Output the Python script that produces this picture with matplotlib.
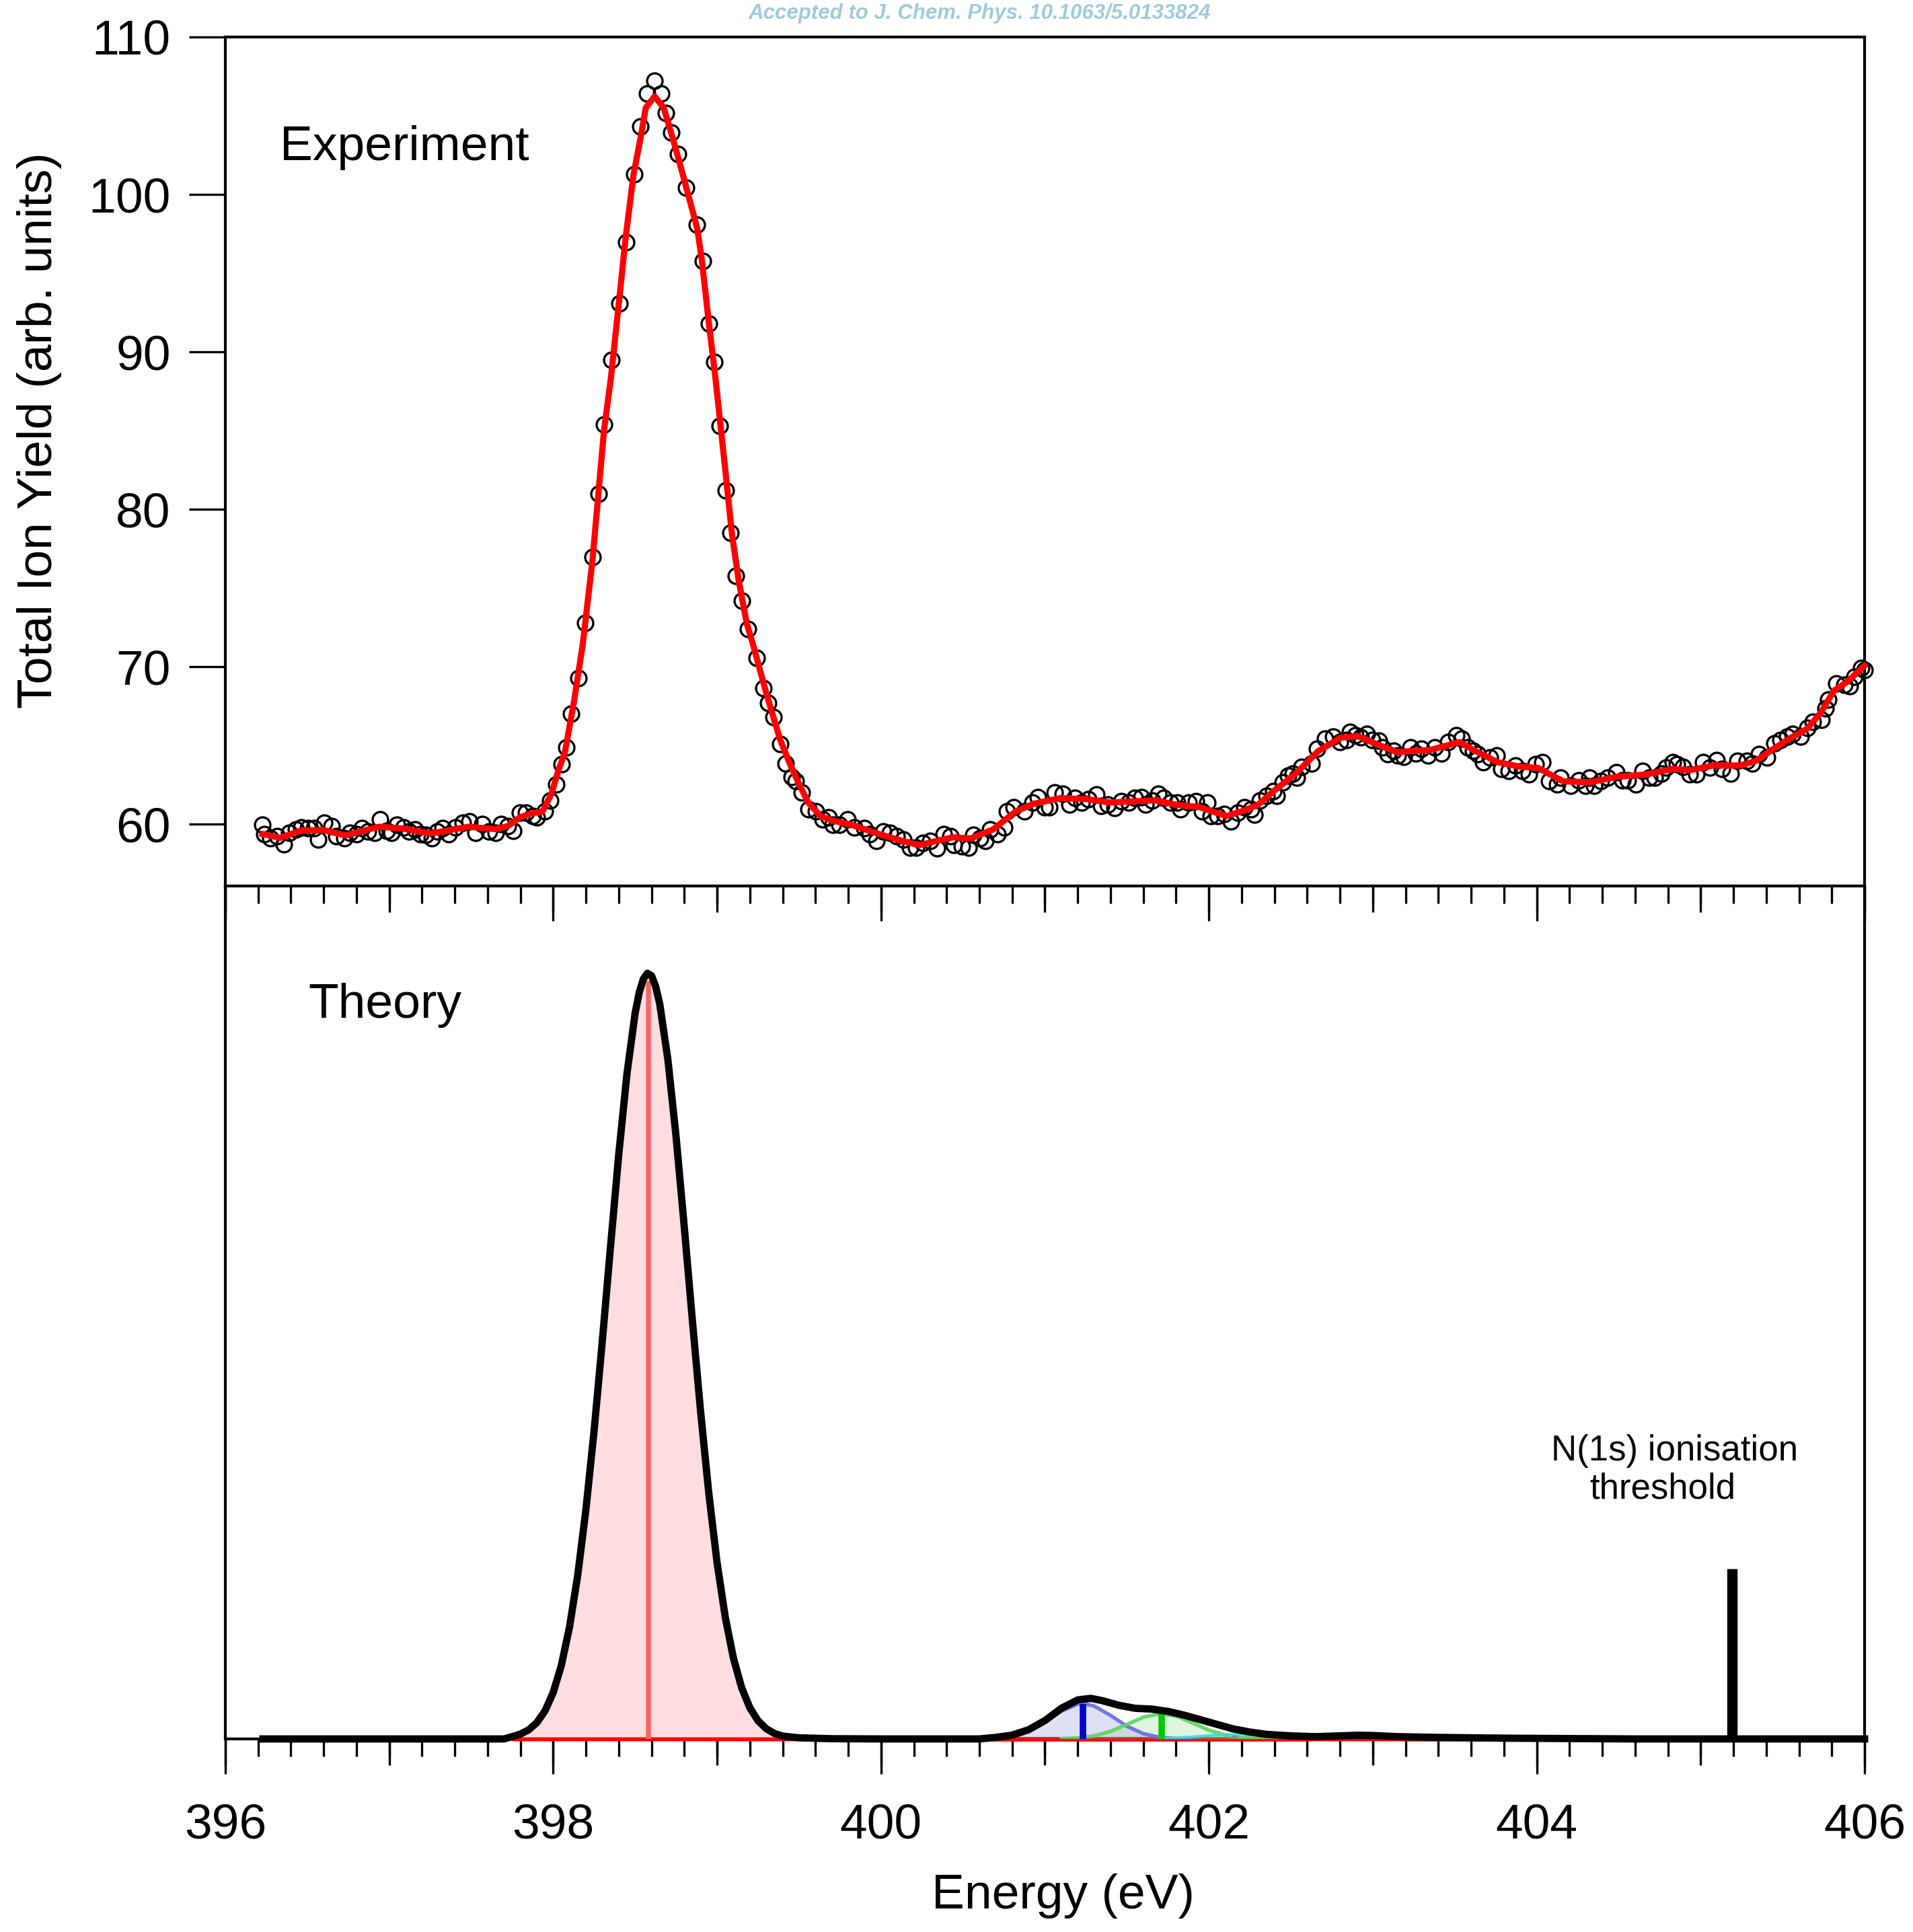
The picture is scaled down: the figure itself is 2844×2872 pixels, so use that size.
import matplotlib
matplotlib.use("Agg")
import matplotlib.pyplot as plt
from matplotlib.ticker import MultipleLocator, NullFormatter

plt.rcParams["font.family"] = ["Liberation Sans", "DejaVu Sans"]

# ---- measured total ion yield (open circles) ----
exp_energy = [
    396.226, 396.239, 396.274, 396.315, 396.356, 396.390, 396.431, 396.465, 396.506, 396.540,
    396.568, 396.602, 396.650, 396.677, 396.725, 396.759, 396.800, 396.834, 396.869, 396.910,
    396.944, 396.985, 397.012, 397.046, 397.087, 397.122, 397.156, 397.190, 397.224, 397.258,
    397.293, 397.327, 397.361, 397.402, 397.450, 397.491, 397.525, 397.566, 397.607, 397.648,
    397.682, 397.723, 397.758, 397.799, 397.833, 397.874, 397.901, 397.949, 397.983, 398.020,
    398.050, 398.080, 398.110, 398.155, 398.196, 398.241, 398.278, 398.310, 398.357, 398.405,
    398.446, 398.495, 398.532, 398.572, 398.618, 398.658, 398.688, 398.721, 398.763, 398.811,
    398.878, 398.912, 398.949, 398.983, 399.015, 399.053, 399.083, 399.113, 399.150, 399.188,
    399.242, 399.283, 399.310, 399.344, 399.385, 399.419, 399.454, 399.481, 399.515, 399.556,
    399.604, 399.645, 399.679, 399.706, 399.747, 399.795, 399.836, 399.898, 399.932, 399.973,
    400.014, 400.055, 400.096, 400.137, 400.178, 400.213, 400.254, 400.302, 400.343, 400.384,
    400.425, 400.445, 400.493, 400.534, 400.562, 400.603, 400.637, 400.664, 400.712, 400.753,
    400.767, 400.808, 400.876, 400.924, 400.958, 401.000, 401.027, 401.061, 401.109, 401.150,
    401.184, 401.225, 401.266, 401.314, 401.341, 401.382, 401.423, 401.464, 401.512, 401.546,
    401.587, 401.615, 401.656, 401.690, 401.724, 401.765, 401.806, 401.827, 401.875, 401.923,
    401.957, 401.991, 402.011, 402.052, 402.093, 402.135, 402.176, 402.217, 402.258, 402.278,
    402.312, 402.353, 402.394, 402.415, 402.449, 402.483, 402.511, 402.538, 402.565, 402.627,
    402.661, 402.709, 402.757, 402.798, 402.839, 402.860, 402.894, 402.928, 402.962, 402.996,
    403.037, 403.058, 403.092, 403.126, 403.154, 403.188, 403.229, 403.263, 403.297, 403.338,
    403.379, 403.420, 403.461, 403.509, 403.543, 403.578, 403.612, 403.639, 403.673, 403.714,
    403.755, 403.783, 403.831, 403.872, 403.913, 403.954, 403.995, 404.036, 404.077, 404.125,
    404.145, 404.207, 404.255, 404.296, 404.323, 404.350, 404.392, 404.433, 404.487, 404.521,
    404.556, 404.604, 404.645, 404.686, 404.720, 404.761, 404.788, 404.829, 404.857, 404.891,
    404.932, 404.973, 405.014, 405.055, 405.096, 405.130, 405.185, 405.226, 405.281, 405.315,
    405.356, 405.404, 405.452, 405.486, 405.527, 405.561, 405.609, 405.650, 405.684, 405.739,
    405.760, 405.780, 405.828, 405.876, 405.910, 405.937, 405.978, 405.999,
]
exp_yield = [
    59.96, 59.39, 59.11, 59.25, 58.75, 59.46, 59.68, 59.82, 59.75, 59.75,
    59.04, 60.10, 59.89, 59.25, 59.11, 59.46, 59.39, 59.75, 59.53, 59.46,
    60.32, 59.61, 59.46, 59.96, 59.82, 59.53, 59.68, 59.39, 59.32, 59.11,
    59.53, 59.75, 59.39, 59.82, 60.10, 60.18, 59.46, 60.03, 59.53, 59.46,
    60.03, 59.89, 59.61, 60.74, 60.74, 60.53, 60.46, 60.82, 61.53, 62.52,
    63.81, 64.87, 67.01, 69.29, 72.80, 77.00, 81.00, 85.40, 89.50, 93.10,
    96.97, 101.27, 104.33, 106.43, 107.22, 106.43, 105.19, 103.95, 102.55, 100.43,
    98.07, 95.76, 91.82, 89.35, 85.30, 81.20, 78.50, 75.80, 74.20, 72.40,
    70.57, 68.65, 67.72, 66.80, 65.09, 63.88, 63.02, 62.74, 62.03, 60.96,
    60.82, 60.32, 60.46, 59.96, 59.96, 60.32, 59.82, 59.75, 59.39, 58.96,
    59.53, 59.46, 59.25, 59.04, 58.54, 58.54, 58.82, 58.97, 58.47, 59.39,
    59.25, 58.68, 58.61, 58.54, 59.32, 59.11, 58.97, 59.68, 59.39, 59.82,
    60.82, 61.10, 60.82, 61.38, 61.74, 61.10, 61.10, 62.03, 61.96, 61.24,
    61.67, 61.38, 61.60, 61.88, 61.17, 61.24, 61.03, 61.46, 61.38, 61.67,
    61.74, 61.24, 61.53, 61.96, 61.67, 61.38, 61.38, 60.96, 61.38, 61.46,
    60.82, 61.38, 60.53, 60.53, 60.67, 60.18, 60.74, 61.10, 60.96, 60.60,
    61.53, 61.81, 62.10, 61.81, 62.67, 63.09, 63.24, 62.95, 63.66, 63.88,
    64.80, 65.44, 65.59, 65.23, 65.37, 65.87, 65.66, 65.51, 65.73, 65.37,
    65.30, 64.87, 64.45, 64.66, 64.38, 64.30, 64.87, 64.52, 64.80, 64.38,
    64.87, 64.52, 65.23, 65.66, 65.44, 64.87, 64.66, 64.45, 63.95, 64.23,
    64.38, 63.52, 63.38, 63.74, 63.38, 63.17, 63.81, 63.95, 62.74, 62.52,
    62.95, 62.45, 62.81, 62.45, 62.95, 62.45, 62.74, 62.95, 63.31, 62.81,
    62.81, 62.52, 63.38, 62.95, 62.95, 63.24, 63.59, 63.95, 63.81, 63.66,
    63.17, 63.17, 63.95, 63.59, 64.09, 63.52, 63.24, 64.02, 64.02, 63.88,
    64.45, 64.23, 65.16, 65.37, 65.59, 65.73, 65.59, 66.15, 66.51, 66.65,
    67.37, 67.94, 68.93, 68.86, 68.79, 69.36, 69.93, 69.79,
]

# ---- fitted curve through the measurement ----
fit_energy = [
    396.226, 396.335, 396.458, 396.595, 396.732, 396.937, 397.074, 397.252, 397.484, 397.648,
    397.723, 397.799, 397.868, 397.935, 397.990, 398.031, 398.072, 398.127, 398.180, 398.240,
    398.280, 398.310, 398.353, 398.401, 398.442, 398.490, 398.537, 398.565, 398.619, 398.674,
    398.715, 398.769, 398.817, 398.879, 398.907, 398.948, 398.989, 399.050, 399.090, 399.130,
    399.180, 399.221, 399.303, 399.385, 399.440, 399.495, 399.556, 399.631, 399.700, 399.823,
    399.987, 400.124, 400.233, 400.343, 400.438, 400.548, 400.684, 400.753, 400.821, 400.931,
    401.095, 401.259, 401.396, 401.533, 401.670, 401.806, 401.943, 402.107, 402.217, 402.299,
    402.394, 402.531, 402.668, 402.805, 402.914, 403.024, 403.147, 403.352, 403.530, 403.626,
    403.762, 403.899, 404.008, 404.160, 404.323, 404.487, 404.665, 404.829, 404.939, 405.075,
    405.240, 405.335, 405.445, 405.541, 405.650, 405.732, 405.814, 405.896, 405.999,
]
fit_yield = [
    59.39, 59.14, 59.60, 59.65, 59.30, 59.85, 59.75, 59.42, 59.85, 59.70,
    59.89, 60.46, 60.70, 60.82, 61.95, 63.40, 64.60, 67.80, 71.40, 76.80,
    81.50, 85.00, 88.43, 93.13, 97.26, 101.24, 103.81, 105.51, 106.23, 105.51,
    104.09, 102.10, 100.25, 97.83, 95.83, 91.99, 88.43, 82.50, 78.50, 75.60,
    72.80, 71.35, 68.22, 65.37, 63.95, 62.67, 61.38, 60.53, 60.25, 59.96,
    59.39, 58.97, 58.68, 58.96, 59.18, 59.11, 59.68, 60.25, 60.82, 61.31,
    61.67, 61.60, 61.39, 61.46, 61.53, 61.24, 61.10, 60.53, 60.89, 61.24,
    62.10, 63.24, 64.66, 65.51, 65.59, 65.09, 64.59, 64.73, 65.23, 64.66,
    63.95, 63.66, 63.59, 62.74, 62.67, 63.02, 63.17, 63.52, 63.45, 63.74,
    63.74, 64.02, 64.80, 65.44, 66.08, 67.08, 68.50, 69.07, 70.07,
]

# ---- calculated spectrum (arbitrary units, main peak = 1) ----
theory_energy = [
    396.23, 397.70, 397.75, 397.80, 397.85, 397.90, 397.95, 398.00, 398.05, 398.10,
    398.15, 398.20, 398.25, 398.30, 398.35, 398.40, 398.45, 398.50, 398.525, 398.55,
    398.575, 398.60, 398.625, 398.65, 398.70, 398.75, 398.80, 398.85, 398.90, 398.95,
    399.00, 399.05, 399.10, 399.15, 399.20, 399.25, 399.30, 399.35, 399.40, 399.50,
    399.70, 400.00, 400.60, 400.70, 400.80, 400.90, 401.00, 401.10, 401.20, 401.28,
    401.35, 401.45, 401.55, 401.65, 401.75, 401.85, 401.95, 402.05, 402.15, 402.25,
    402.35, 402.50, 402.65, 402.80, 402.90, 403.00, 403.15, 403.40, 403.80, 404.20,
    404.60, 406.00,
]
theory_total = [
    0.0, 0.0, 0.003, 0.0063, 0.0118, 0.0212, 0.0366, 0.0606, 0.0962, 0.1466,
    0.2142, 0.3002, 0.4035, 0.5203, 0.6435, 0.7634, 0.8686, 0.9481, 0.975, 0.9925,
    1.0, 0.9967, 0.983, 0.960, 0.8869, 0.786, 0.668, 0.5447, 0.426, 0.3196,
    0.2299, 0.1587, 0.1051, 0.0667, 0.0406, 0.0237, 0.0133, 0.0071, 0.0037, 0.0015,
    0.0003, 0.0, 0.0, 0.002, 0.005, 0.012, 0.024, 0.040, 0.051, 0.053,
    0.050, 0.044, 0.040, 0.039, 0.036, 0.031, 0.025, 0.019, 0.013, 0.009,
    0.006, 0.004, 0.003, 0.004, 0.0048, 0.0045, 0.003, 0.002, 0.001, 0.0005,
    0.0, 0.0,
]

# red group: main pi* resonance plus a weak feature near 402.9 eV
red_energy = [
    397.75, 397.80, 397.85, 397.90, 397.95, 398.00, 398.05, 398.10, 398.15, 398.20,
    398.25, 398.30, 398.35, 398.40, 398.45, 398.50, 398.525, 398.55, 398.575, 398.60,
    398.625, 398.65, 398.70, 398.75, 398.80, 398.85, 398.90, 398.95, 399.00, 399.05,
    399.10, 399.15, 399.20, 399.25, 399.30, 399.35, 399.40, 399.50, 399.70, 400.00,
    402.60, 402.75, 402.90, 403.05, 403.20, 404.00,
]
red_value = [
    0.003, 0.0063, 0.0118, 0.0212, 0.0366, 0.0606, 0.0962, 0.1466, 0.2142, 0.3002,
    0.4035, 0.5203, 0.6435, 0.7634, 0.8686, 0.9481, 0.975, 0.9925, 1.0, 0.9967,
    0.983, 0.960, 0.8869, 0.786, 0.668, 0.5447, 0.426, 0.3196, 0.2299, 0.1587,
    0.1051, 0.0667, 0.0406, 0.0237, 0.0133, 0.0071, 0.0037, 0.0015, 0.0003, 0.0,
    0.0, 0.002, 0.0045, 0.002, 0.0, 0.0,
]

blue_energy = [400.60, 400.70, 400.80, 400.90, 401.00, 401.10, 401.20, 401.25,
               401.30, 401.40, 401.50, 401.60, 401.70, 401.80, 401.90]
blue_value = [0.0002, 0.001, 0.0035, 0.0101, 0.0221, 0.0364, 0.0454, 0.0455,
              0.0430, 0.0308, 0.0167, 0.0069, 0.0021, 0.0005, 0.0]

green_energy = [401.10, 401.20, 401.30, 401.40, 401.50, 401.60, 401.70,
                401.80, 401.90, 402.00, 402.10, 402.20, 402.30, 402.40]
green_value = [0.0003, 0.0013, 0.0040, 0.0099, 0.0190, 0.0284, 0.0330,
               0.0298, 0.0210, 0.0115, 0.0049, 0.0016, 0.0004, 0.0]

cyan_energy = [401.70, 401.80, 401.90, 402.00, 402.10, 402.20, 402.30, 402.40, 402.50, 402.60]
cyan_value = [0.0004, 0.0012, 0.0026, 0.0044, 0.0057, 0.0059, 0.0047, 0.0029, 0.0014, 0.0005]

# transition sticks
stick_energy = [398.58, 401.23, 401.71, 402.16, 402.90]
stick_height = [0.99, 0.046, 0.033, 0.004, 0.003]
stick_color = ["#ff6464", "#0000c8", "#00c800", "#8c8c8c", "#e05080"]
stick_width = [1.8, 2.3, 2.3, 2.3, 2.3]

threshold_energy = 405.19
threshold_height = 0.222

FS = 17.6

fig = plt.figure(figsize=(2845 / 300, 2872 / 300), dpi=300)
ax1 = fig.add_axes([0.11775, 0.54143, 0.85659, 0.43942])
ax2 = fig.add_axes([0.11775, 0.09993, 0.85659, 0.44150])
# top panel above so its downward ticks show over the lower panel
ax1.set_zorder(ax2.get_zorder() + 1)


def energy_ticks(ax, labels):
    ax.set_xlim(396, 406)
    ax.xaxis.set_major_locator(MultipleLocator(2))
    ax.xaxis.set_minor_locator(MultipleLocator(0.2))
    ax.tick_params(axis="x", which="major", direction="out", length=12.5,
                   width=0.8, pad=10.5, labelsize=FS, labelbottom=labels)
    ax.tick_params(axis="x", which="minor", direction="out", length=6.2, width=0.8)
    # middle-length ticks on every whole eV
    sec = ax.secondary_xaxis("bottom")
    sec.xaxis.set_major_locator(MultipleLocator(1))
    sec.xaxis.set_major_formatter(NullFormatter())
    sec.tick_params(axis="x", direction="out", length=9.4, width=0.8)
    sec.spines["bottom"].set_visible(False)
    for s in ax.spines.values():
        s.set_linewidth(1.0)


# ---- top panel: experiment ----
ax1.plot(exp_energy, exp_yield, "o", ms=5.5, mfc="none", mec="black", mew=0.8,
         clip_on=False, zorder=3)
ax1.plot(fit_energy, fit_yield, color="red", lw=2.2, zorder=4, clip_on=False)
ax1.set_ylim(56.09, 110)
ax1.yaxis.set_major_locator(MultipleLocator(10))
ax1.tick_params(axis="y", direction="out", length=13, width=0.8, pad=6.5, labelsize=FS)
energy_ticks(ax1, labels=False)
ax1.set_ylabel("Total Ion Yield (arb. units)", fontsize=FS, labelpad=9.5, y=0.537)
ax1.text(0.0332, 0.855, "Experiment", transform=ax1.transAxes, fontsize=FS)

# ---- bottom panel: theory ----
ax2.fill_between(red_energy, red_value, facecolor="#ffdde0", edgecolor="red",
                 lw=1.4, clip_on=False, zorder=3)
ax2.fill_between(blue_energy, blue_value, color="#6060d0", alpha=0.2, lw=0, zorder=3.1)
ax2.fill_between(green_energy, green_value, color="#60d060", alpha=0.2, lw=0, zorder=3.1)
ax2.fill_between(cyan_energy, cyan_value, color="#40e0d8", alpha=0.25, lw=0, zorder=3.1)
ax2.plot(blue_energy, blue_value, color="#6a6ae6", lw=1.3, alpha=0.9, zorder=3.2)
ax2.plot(green_energy, green_value, color="#5cd45c", lw=1.3, alpha=0.9, zorder=3.2)
ax2.plot(cyan_energy, cyan_value, color="#30e0e0", lw=1.0, alpha=0.9, zorder=3.2)
ax2.vlines(stick_energy, 0, stick_height, colors=stick_color, linewidths=stick_width,
           zorder=3.4)
ax2.vlines(threshold_energy, 0, threshold_height, color="black", lw=3.7, zorder=3.5)
ax2.plot(theory_energy, theory_total, color="black", lw=2.6, zorder=3.6,
         clip_on=False, solid_joinstyle="round")
ax2.set_ylim(0, 1.114)
ax2.set_yticks([])
energy_ticks(ax2, labels=True)
ax2.set_xlabel("Energy (eV)", fontsize=FS, labelpad=9, x=0.511)
ax2.text(0.0505, 0.8454, "Theory", transform=ax2.transAxes, fontsize=FS)
ax2.text(404.84, 0.364, "N(1s) ionisation", ha="center", fontsize=12.7)
ax2.text(404.77, 0.314, "threshold", ha="center", fontsize=12.7)

fig.text(0.512, 1 - 5 / 2872, "Accepted to J. Chem. Phys. 10.1063/5.0133824",
         ha="center", va="top", fontsize=7.5, fontweight="bold", style="italic",
         color="#9fcbdd", family=["Liberation Sans Narrow", "Liberation Sans"])

fig.savefig("out.png", dpi=300)
